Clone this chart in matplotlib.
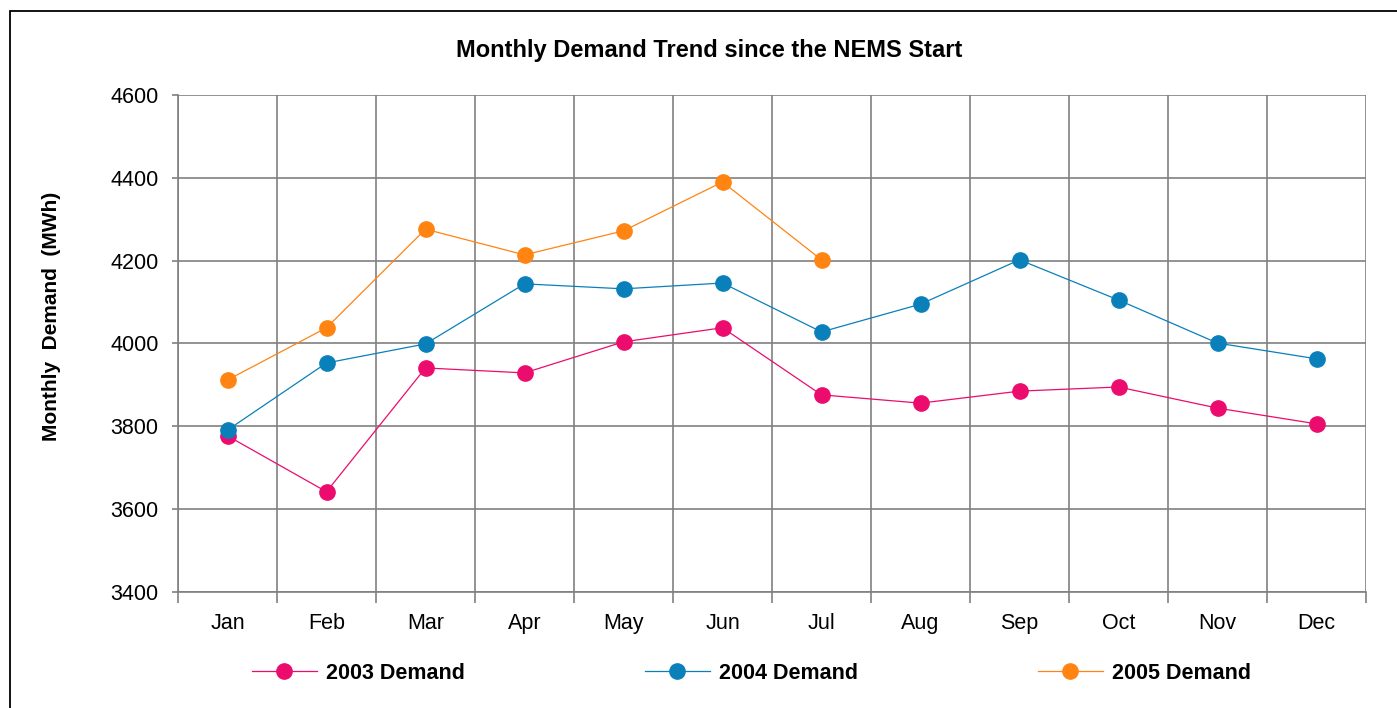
import matplotlib
matplotlib.use("Agg")
import matplotlib.pyplot as plt
from matplotlib.patches import Rectangle
import numpy as np

plt.rcParams['font.family'] = ['Liberation Sans', 'DejaVu Sans']

months = ["Jan", "Feb", "Mar", "Apr", "May", "Jun", "Jul", "Aug", "Sep", "Oct", "Nov", "Dec"]
demand_2003 = [3777, 3642, 3941, 3929, 4004, 4038, 3876, 3856, 3885, 3895, 3844, 3806]
demand_2004 = [3791, 3953, 3999, 4144, 4132, 4146, 4028, 4095, 4202, 4105, 4001, 3963]
demand_2005 = [3912, 4038, 4276, 4214, 4272, 4390, 4202]
series_labels = ["2003 Demand", "2004 Demand", "2005 Demand"]
colors = ["#EC0C6E", "#0A80BA", "#FF8412"]
yticks = [3400, 3600, 3800, 4000, 4200, 4400, 4600]

W, H = 1397, 708
fig = plt.figure(figsize=(W / 100, H / 100), dpi=100)
ax = fig.add_axes([178 / W, 1 - 592 / H, (1366 - 178) / W, (592 - 95) / H])

x_all = np.arange(len(months)) + 0.5
for vals, col, lab in zip([demand_2003, demand_2004, demand_2005], colors, series_labels):
    ax.plot(x_all[:len(vals)], vals, color=col, lw=0.9, marker='o', markersize=11,
            markeredgecolor=col, markerfacecolor=col, label=lab, zorder=3)

ax.set_xlim(0, 12)
ax.set_ylim(3400, 4600)
ax.set_yticks(yticks)
ax.set_xticks(x_all)
ax.set_xticklabels(months)
ax.set_xticks(np.arange(0, 13), minor=True)
ax.tick_params(axis='x', which='major', length=0, pad=15, labelsize=15.5)
ax.tick_params(axis='x', which='minor', length=8, width=1.2, color='#808080', direction='out')
ax.tick_params(axis='y', length=4, width=1.2, color='#808080', pad=10, labelsize=15.5)

ax.grid(True, which='minor', axis='x', color='#808080', lw=1.2)
ax.grid(True, which='major', axis='y', color='#808080', lw=1.2)
for s in ['top', 'right']:
    ax.spines[s].set_visible(False)
for s in ['left', 'bottom']:
    ax.spines[s].set_color('#808080')
    ax.spines[s].set_linewidth(1.2)

fig.text(52 / W, 1 - 316 / H, "Monthly  Demand  (MWh)", rotation=90,
         ha='center', va='center', fontsize=15, fontweight='bold')
fig.text(709 / W, 1 - 50 / H, "Monthly Demand Trend since the NEMS Start",
         ha='center', va='center', fontsize=17, fontweight='bold')

leg = ax.legend(loc='center', bbox_to_anchor=(0.483, -0.163), ncol=3, frameon=False,
                prop={'weight': 'bold', 'size': 15.5}, handlelength=3.0,
                handletextpad=0.45, columnspacing=8.35)

fig.patches.append(Rectangle((10 / W, -0.1), 1.2, 1 - 11 / H + 0.1,
                             transform=fig.transFigure, fill=False,
                             edgecolor='black', lw=1.3))

fig.savefig("out.png", dpi=100)
